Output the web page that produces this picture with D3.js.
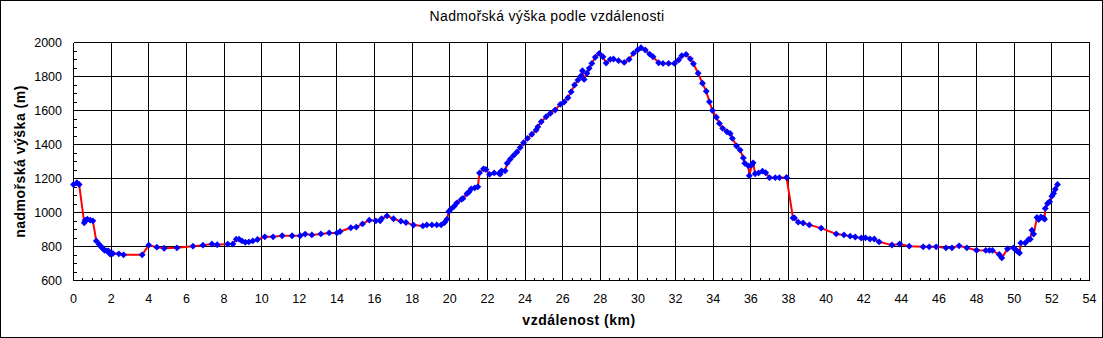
<!DOCTYPE html>
<html>
<head>
<meta charset="utf-8">
<script src="https://cdn.jsdelivr.net/npm/d3@7"></script>
<style>
  body { margin: 0; background: #fff; }
  text { font-family: Arial, "Liberation Sans", sans-serif; }
</style>
</head>
<body>
<div id="chart"></div>
<script>
// distance along the route (km)
const distKm = [
  0.0, 0.18, 0.3, 0.57, 0.62, 0.74, 0.89, 1.03, 1.21, 1.37, 1.47, 1.56, 1.65, 1.77, 1.86, 1.95,
  2.09, 2.41, 2.66, 3.65, 4.0, 4.43, 4.82, 5.5, 6.35, 6.88, 7.36, 7.64, 8.2, 8.47, 8.65, 8.8,
  8.95, 9.13, 9.32, 9.53, 9.78, 10.17, 10.61, 11.09, 11.62, 12.05, 12.31, 12.67, 13.15, 13.59,
  14.0, 14.17, 14.74, 15.03, 15.36, 15.72, 16.07, 16.3, 16.37, 16.66, 17.01, 17.4, 17.67, 18.07,
  18.57, 18.78, 19.05, 19.31, 19.54, 19.72, 19.85, 19.95, 20.06, 20.23, 20.38, 20.61, 20.7,
  20.91, 21.03, 21.14, 21.33, 21.49, 21.58, 21.79, 21.92, 22.11, 22.36, 22.61, 22.68, 22.75,
  22.94, 23.05, 23.21, 23.39, 23.57, 23.74, 23.92, 24.13, 24.36, 24.59, 24.68, 24.86, 25.12,
  25.34, 25.6, 25.87, 26.08, 26.28, 26.45, 26.63, 26.81, 26.97, 27.05, 27.14, 27.29, 27.41,
  27.55, 27.73, 27.94, 28.14, 28.31, 28.53, 28.7, 28.97, 29.27, 29.53, 29.76, 29.98, 30.16,
  30.39, 30.62, 30.8, 31.1, 31.33, 31.63, 31.94, 32.16, 32.33, 32.56, 32.78, 32.95, 33.2,
  33.43, 33.63, 33.8, 33.96, 34.17, 34.33, 34.5, 34.73, 34.9, 35.02, 35.24, 35.43, 35.6,
  35.68, 35.87, 35.92, 36.05, 36.12, 36.23, 36.41, 36.62, 36.79, 36.99, 37.3, 37.52, 37.9,
  38.24, 38.32, 38.52, 38.78, 39.11, 39.74, 40.54, 40.95, 41.28, 41.55, 41.87, 42.09, 42.33,
  42.56, 42.82, 43.5, 43.91, 44.42, 45.16, 45.48, 45.85, 46.37, 46.69, 47.07, 47.48, 48.0,
  48.49, 48.68, 48.84, 49.2, 49.34, 49.64, 49.96, 50.06, 50.17, 50.28, 50.35, 50.58, 50.76,
  50.85, 50.94, 51.03, 51.21, 51.3, 51.42, 51.56, 51.61, 51.65, 51.77, 51.88, 52.0, 52.09,
  52.18, 52.3
];

// elevation (m)
const elevM = [
  1165, 1175, 1165, 939, 955, 961, 955, 951, 833, 812, 798, 788, 778, 774, 774, 755,
  759, 757, 751, 751, 808, 796, 790, 792, 802, 808, 815, 810, 814, 815, 843, 843,
  833, 825, 827, 833, 841, 857, 857, 863, 863, 863, 873, 868, 874, 880,
  880, 888, 910, 914, 933, 955, 951, 951, 963, 980, 963, 949, 941, 926,
  921, 927, 927, 927, 927, 941, 961, 1006, 1020, 1037, 1057, 1077, 1083,
  1110, 1122, 1139, 1145, 1151, 1233, 1257, 1253, 1224, 1233, 1230, 1226, 1245,
  1245, 1290, 1313, 1336, 1356, 1382, 1410, 1436, 1460, 1485, 1504, 1534, 1563,
  1583, 1603, 1636, 1650, 1675, 1710, 1750, 1779, 1803, 1834, 1783, 1819, 1848,
  1877, 1913, 1936, 1916, 1879, 1901, 1903, 1893, 1883, 1901, 1936, 1956, 1969,
  1956, 1932, 1916, 1881, 1877, 1877, 1877, 1897, 1922, 1930, 1904, 1875, 1819,
  1760, 1713, 1651, 1600, 1560, 1524, 1495, 1475, 1465, 1436, 1391, 1367, 1321,
  1289, 1274, 1216, 1280, 1292, 1228, 1233, 1243, 1234, 1205, 1205, 1205, 1206,
  968, 968, 943, 938, 927, 908, 874, 868, 861, 856, 850, 851, 844,
  844, 827, 809, 815, 802, 798, 798, 798, 792, 792, 804, 792, 778,
  777, 777, 777, 753, 733, 786, 792, 782, 772, 762, 821, 821, 841,
  843, 896, 873, 971, 959, 974, 968, 961, 1024, 1053, 1063, 1096, 1112,
  1137, 1165
];

const xTicks = d3.range(0, 55, 2);
const yTicks = d3.range(600, 2001, 200);
const xMinor = d3.range(0, 54.01, 0.5);
const yMinor = d3.range(600, 2000.1, 50);

const titleText = "Nadmořská výška podle vzdálenosti";
const xTitle = "vzdálenost (km)";
const yTitle = "nadmořská výška (m)";

const W = 1103, H = 338;

const svg = d3.select("#chart")
  .append("svg")
  .attr("width", W)
  .attr("height", H);

// outer frame
svg.append("rect")
  .attr("x", 0.5).attr("y", 0.5)
  .attr("width", W - 1).attr("height", H - 1)
  .attr("fill", "#fff")
  .attr("stroke", "#000")
  .attr("shape-rendering", "crispEdges");

const x = d3.scaleLinear().domain([0, 54]).range([73.5, 1089.5]);
const y = d3.scaleLinear().domain([600, 2000]).range([280.5, 42.5]);

// grid
const grid = svg.append("g")
  .attr("stroke", "#000")
  .attr("stroke-width", 1)
  .attr("shape-rendering", "crispEdges");

grid.selectAll(".vg")
  .data(xTicks)
  .join("line")
  .attr("x1", d => x(d)).attr("x2", d => x(d))
  .attr("y1", y(600)).attr("y2", y(2000));

grid.selectAll(".hg")
  .data(yTicks)
  .join("line")
  .attr("class", "hg")
  .attr("x1", x(0)).attr("x2", x(54))
  .attr("y1", d => y(d)).attr("y2", d => y(d));

// minor ticks (inside)
grid.selectAll(".xm")
  .data(xMinor)
  .join("line")
  .attr("class", "xm")
  .attr("x1", d => x(d)).attr("x2", d => x(d))
  .attr("y1", y(600)).attr("y2", y(600) - 3);

grid.selectAll(".ym")
  .data(yMinor)
  .join("line")
  .attr("class", "ym")
  .attr("x1", x(0)).attr("x2", x(0) + 3)
  .attr("y1", d => y(d)).attr("y2", d => y(d));

// tick labels
svg.append("g")
  .selectAll("text")
  .data(xTicks)
  .join("text")
  .attr("x", d => x(d))
  .attr("y", 303)
  .attr("text-anchor", "middle")
  .style("font-size", "12.5px")
  .text(d => d);

svg.append("g")
  .selectAll("text")
  .data(yTicks)
  .join("text")
  .attr("x", 62)
  .attr("y", d => y(d) + 4.5)
  .attr("text-anchor", "end")
  .style("font-size", "12.5px")
  .text(d => d);

// profile line
const pts = distKm.map((d, i) => ({ km: d, m: elevM[i] }));

const line = d3.line()
  .x(d => x(d.km))
  .y(d => y(d.m));

svg.append("path")
  .datum(pts)
  .attr("fill", "none")
  .attr("stroke", "#ff0000")
  .attr("stroke-width", 2)
  .attr("d", line);

svg.append("g")
  .selectAll("path")
  .data(pts)
  .join("path")
  .attr("transform", d => `translate(${x(d.km)},${y(d.m)})`)
  .attr("d", d3.symbol().type(d3.symbolDiamond2).size(30))
  .attr("fill", "#0000ff");

// titles
svg.append("text")
  .attr("x", 547)
  .attr("y", 21)
  .attr("text-anchor", "middle")
  .style("font-size", "14px")
  .style("letter-spacing", "0.35px")
  .text(titleText);

svg.append("text")
  .attr("x", 579)
  .attr("y", 325)
  .attr("text-anchor", "middle")
  .style("font-size", "14px")
  .style("font-weight", "bold")
  .style("letter-spacing", "0.5px")
  .text(xTitle);

svg.append("text")
  .attr("transform", `translate(25,${(y(600) + y(2000)) / 2}) rotate(-90)`)
  .attr("text-anchor", "middle")
  .style("font-size", "14px")
  .style("font-weight", "bold")
  .style("letter-spacing", "0.5px")
  .text(yTitle);
</script>
</body>
</html>
